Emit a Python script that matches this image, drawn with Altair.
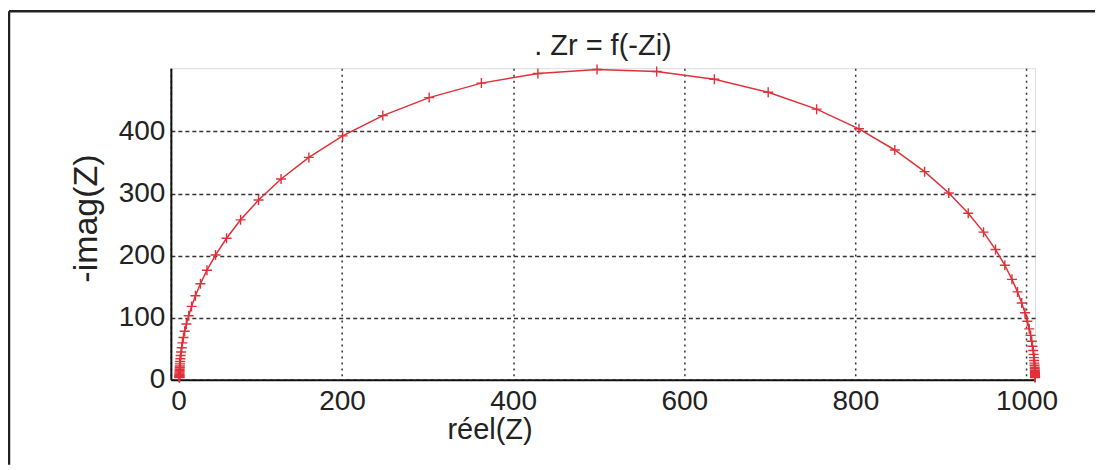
import altair as alt
import pandas as pd

xs = [1010.0, 1010.0, 1010.0, 1010.0, 1010.0, 1009.9, 1009.9, 1009.9, 1009.9, 1009.8,
      1009.8, 1009.7, 1009.6, 1009.4, 1009.3, 1009.0, 1008.7, 1008.3, 1007.8, 1007.0,
      1006.1, 1004.8, 1003.2, 1001.0, 998.2, 994.4, 989.5, 983.0, 974.7, 963.8,
      949.8, 931.9, 909.2, 880.9, 846.1, 804.2, 754.7, 698.1, 635.2, 567.8,
      498.1, 429.0, 362.9, 301.9, 247.7, 200.8, 161.3, 128.8, 102.5, 81.5,
      65.1, 52.2, 42.2, 34.6, 28.7, 24.2, 20.8, 18.2, 16.2, 14.7,
      13.5, 12.7, 12.0, 11.5, 11.2, 10.9, 10.7, 10.5, 10.4, 10.3,
      10.2, 10.2, 10.1, 10.1, 10.1, 10.1, 10.0, 10.0, 10.0, 10.0, 10.0]
ys = [3.8, 4.4, 5.1, 5.8, 6.7, 7.7, 8.9, 10.2, 11.7, 13.4,
      15.5, 17.8, 20.4, 23.5, 27.0, 31.1, 35.8, 41.1, 47.3, 54.2,
      62.3, 71.6, 82.2, 94.3, 108.1, 123.9, 141.7, 161.9, 184.6, 209.9,
      237.9, 268.3, 301.0, 335.3, 370.2, 404.3, 436.0, 463.3, 484.1, 496.7,
      499.9, 493.4, 477.9, 454.6, 425.6, 392.9, 358.3, 323.5, 289.7, 257.7,
      228.1, 201.0, 176.6, 154.8, 135.4, 118.3, 103.2, 90.0, 78.4, 68.3,
      59.5, 51.7, 45.0, 39.2, 34.1, 29.6, 25.8, 22.4, 19.5, 17.0,
      14.7, 12.8, 11.2, 9.7, 8.4, 7.3, 6.4, 5.5, 4.8, 4.2, 3.6]

x_ticks = [0, 200, 400, 600, 800, 1000]
y_ticks = [0, 100, 200, 300, 400]

title_text = ". Zr = f(-Zi)"
x_title = "réel(Z)"
y_title = "-imag(Z)"

RED = "#e0303a"
INK = "#222222"
FONT = "Liberation Sans"

W, H = 865, 312
PAD = {"left": 163, "top": 60, "right": 60, "bottom": 85}

df = pd.DataFrame({"x": xs, "y": ys, "i": list(range(len(xs)))})

x_enc = alt.X(
    "x:Q",
    scale=alt.Scale(domain=[0, 1010], nice=False, zero=False),
    axis=alt.Axis(
        values=x_ticks, title=x_title, format="d",
        grid=True, gridColor="#333333", gridDash=[2, 4], gridWidth=1.5,
        domain=True, domainColor="#111111", domainWidth=2,
        ticks=False, labelPadding=8, labelFontSize=28, labelFont=FONT,
        labelColor=INK, titleFont=FONT, titleFontSize=29, titleFontWeight="normal",
        titleColor=INK, titleX=319, titleY=50, titleAlign="center",
        titleBaseline="middle",
    ),
)
y_enc = alt.Y(
    "y:Q",
    scale=alt.Scale(domain=[0, 502], nice=False, zero=False),
    axis=alt.Axis(
        values=y_ticks, title=y_title, format="d",
        grid=True, gridColor="#333333", gridDash=[4, 3], gridWidth=1.5,
        domain=True, domainColor="#111111", domainWidth=2,
        ticks=False, labelPadding=6, labelFontSize=28, labelFont=FONT,
        labelColor=INK, titleFont=FONT, titleFontSize=34, titleFontWeight="normal",
        titleColor=INK, titleX=-84, titleY=H / 2 - 6, titleAlign="center",
        titleBaseline="middle", titleAngle=270,
    ),
)

base = alt.Chart(df)
line = base.mark_line(color=RED, strokeWidth=1.5).encode(
    x=x_enc, y=y_enc, order=alt.Order("i:Q")
)
pts = base.mark_point(
    shape="M-1,0H1M0,-1V1", size=100, filled=False, color=RED,
    strokeWidth=1.4, opacity=1,
).encode(x="x:Q", y="y:Q")

one = pd.DataFrame({"a": [0]})
title_mark = alt.Chart(one).mark_text(
    text=title_text, font=FONT, fontSize=29, color=INK,
    align="center", baseline="alphabetic",
).encode(x=alt.value(W / 2), y=alt.value(-13))
frame_top = alt.Chart(one).mark_rule(color="#222222", strokeWidth=2.5).encode(
    x=alt.value(-162), x2=alt.value(W + PAD["right"]), y=alt.value(-57)
)
frame_left = alt.Chart(one).mark_rule(color="#222222", strokeWidth=2.5).encode(
    x=alt.value(-162), y=alt.value(-57), y2=alt.value(H + PAD["bottom"])
)

chart = (
    alt.layer(line, pts, title_mark, frame_top, frame_left)
    .properties(
        width=W, height=H,
        padding=PAD,
        autosize=alt.AutoSizeParams(type="none"),
    )
    .configure_view(stroke=None)
    .configure(background="white")
)

chart.save("out.html", embed_options={"renderer": "svg", "actions": False})
